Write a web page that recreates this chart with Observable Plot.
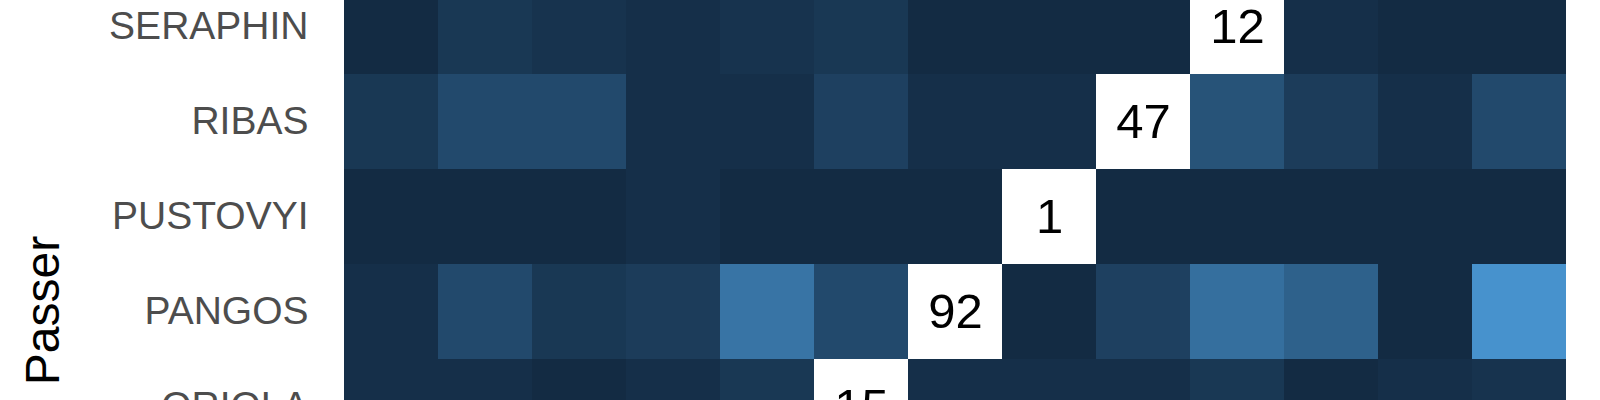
<!DOCTYPE html>
<html>
<head>
<meta charset="utf-8">
<script src="https://cdn.jsdelivr.net/npm/d3@7"></script>
<script src="https://cdn.jsdelivr.net/npm/@observablehq/plot@0.6"></script>
<style>
  html, body { margin: 0; padding: 0; background: #ffffff; overflow: hidden; }
  #chart svg { display: block; font-family: "Liberation Sans", Arial, sans-serif; }
</style>
</head>
<body>
<div id="chart"></div>
<script>
// Rows (passers) visible in the crop, top to bottom
const passers = ["SERAPHIN", "RIBAS", "PUSTOVYI", "PANGOS", "ORIOLA"];
// Receiver columns, left to right (only five names are identifiable on the crop)
const receivers = ["Receiver 1", "Receiver 2", "Receiver 3", "Receiver 4", "Receiver 5",
  "ORIOLA", "PANGOS", "PUSTOVYI", "RIBAS", "SERAPHIN",
  "Receiver 11", "Receiver 12", "Receiver 13"];
// Pass counts per passer → receiver (null = the passer himself)
const seraphin = [0, 3, 2, 1, 2, 3, 0, 0, 0, null, 1, 0, 0];
const ribas    = [3, 7, 7, 1, 1, 5, 1, 1, null, 9, 4, 1, 7];
const pustovyi = [0, 0, 0, 1, 0, 0, 0, null, 0, 0, 0, 0, 0];
const pangos   = [1, 7, 3, 4, 16, 7, null, 0, 5, 15, 12, 0, 22];
const oriola   = [1, 1, 0, 1, 3, null, 1, 1, 1, 3, 0, 1, 2];
// Total passes by each passer (shown on the diagonal)
const totals = [12, 47, 1, 92, 15];

const rowsData = [seraphin, ribas, pustovyi, pangos, oriola];
const cells = [];
const diag = [];
rowsData.forEach((row, i) => {
  row.forEach((v, j) => {
    if (v === null) diag.push({passer: passers[i], receiver: receivers[j], total: totals[i]});
    else cells.push({passer: passers[i], receiver: receivers[j], count: v});
  });
});

const chart = Plot.plot({
  width: 1600,
  height: 400,
  marginLeft: 340,
  marginRight: 30,
  marginTop: 0,
  marginBottom: 0,
  style: {fontFamily: "Liberation Sans, Arial, sans-serif", background: "#ffffff"},
  x: {domain: receivers, padding: 0, axis: null},
  y: {domain: passers, padding: 0, range: [-20.7, 454.3], axis: null},
  color: {type: "linear", domain: [0, 28], range: ["#132B43", "#56B1F7"], interpolate: "lab"},
  marks: [
    Plot.cell(cells, {x: "receiver", y: "passer", fill: "count"}),
    Plot.cell(diag, {x: "receiver", y: "passer", fill: "#ffffff"}),
    Plot.text(diag, {x: "receiver", y: "passer", text: d => String(d.total), fontSize: 49, fill: "#000000"}),
    Plot.axisY({tickSize: 0, tickPadding: 32, fontSize: 39, color: "#4d4d4d", label: null}),
    Plot.text(["Passer"], {frameAnchor: "left", rotate: -90, textAnchor: "middle", lineAnchor: "middle",
      dx: -297, dy: 110, fontSize: 48, fill: "#000000"})
  ]
});
document.getElementById("chart").appendChild(chart);
</script>
</body>
</html>
